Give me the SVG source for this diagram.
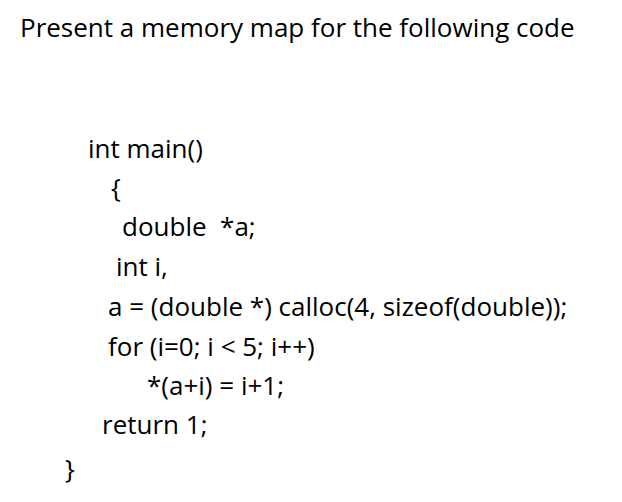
<svg xmlns="http://www.w3.org/2000/svg" width="622" height="502" viewBox="0 0 622 502">
<style>text{font-family:"Open Sans","Noto Sans",sans-serif;font-size:26px;fill:#000;white-space:pre}</style>
<rect width="622" height="502" fill="#fff"/>
<text x="20" y="37">Present a memory map for the following code</text>
<g id="code">
<text x="88" y="158">int main()</text>
<text x="111" y="197">{</text>
<text x="122" y="236">double  *a;</text>
<text x="116" y="276">int i,</text>
<text x="108" y="316">a = (double *) calloc(4, sizeof(double));</text>
<text x="108" y="356">for (i=0; i &lt; 5; i++)</text>
<text x="147" y="395">*(a+i) = i+1;</text>
<text x="102" y="434">return 1;</text>
<text x="65" y="478">}</text>
</g>
</svg>
